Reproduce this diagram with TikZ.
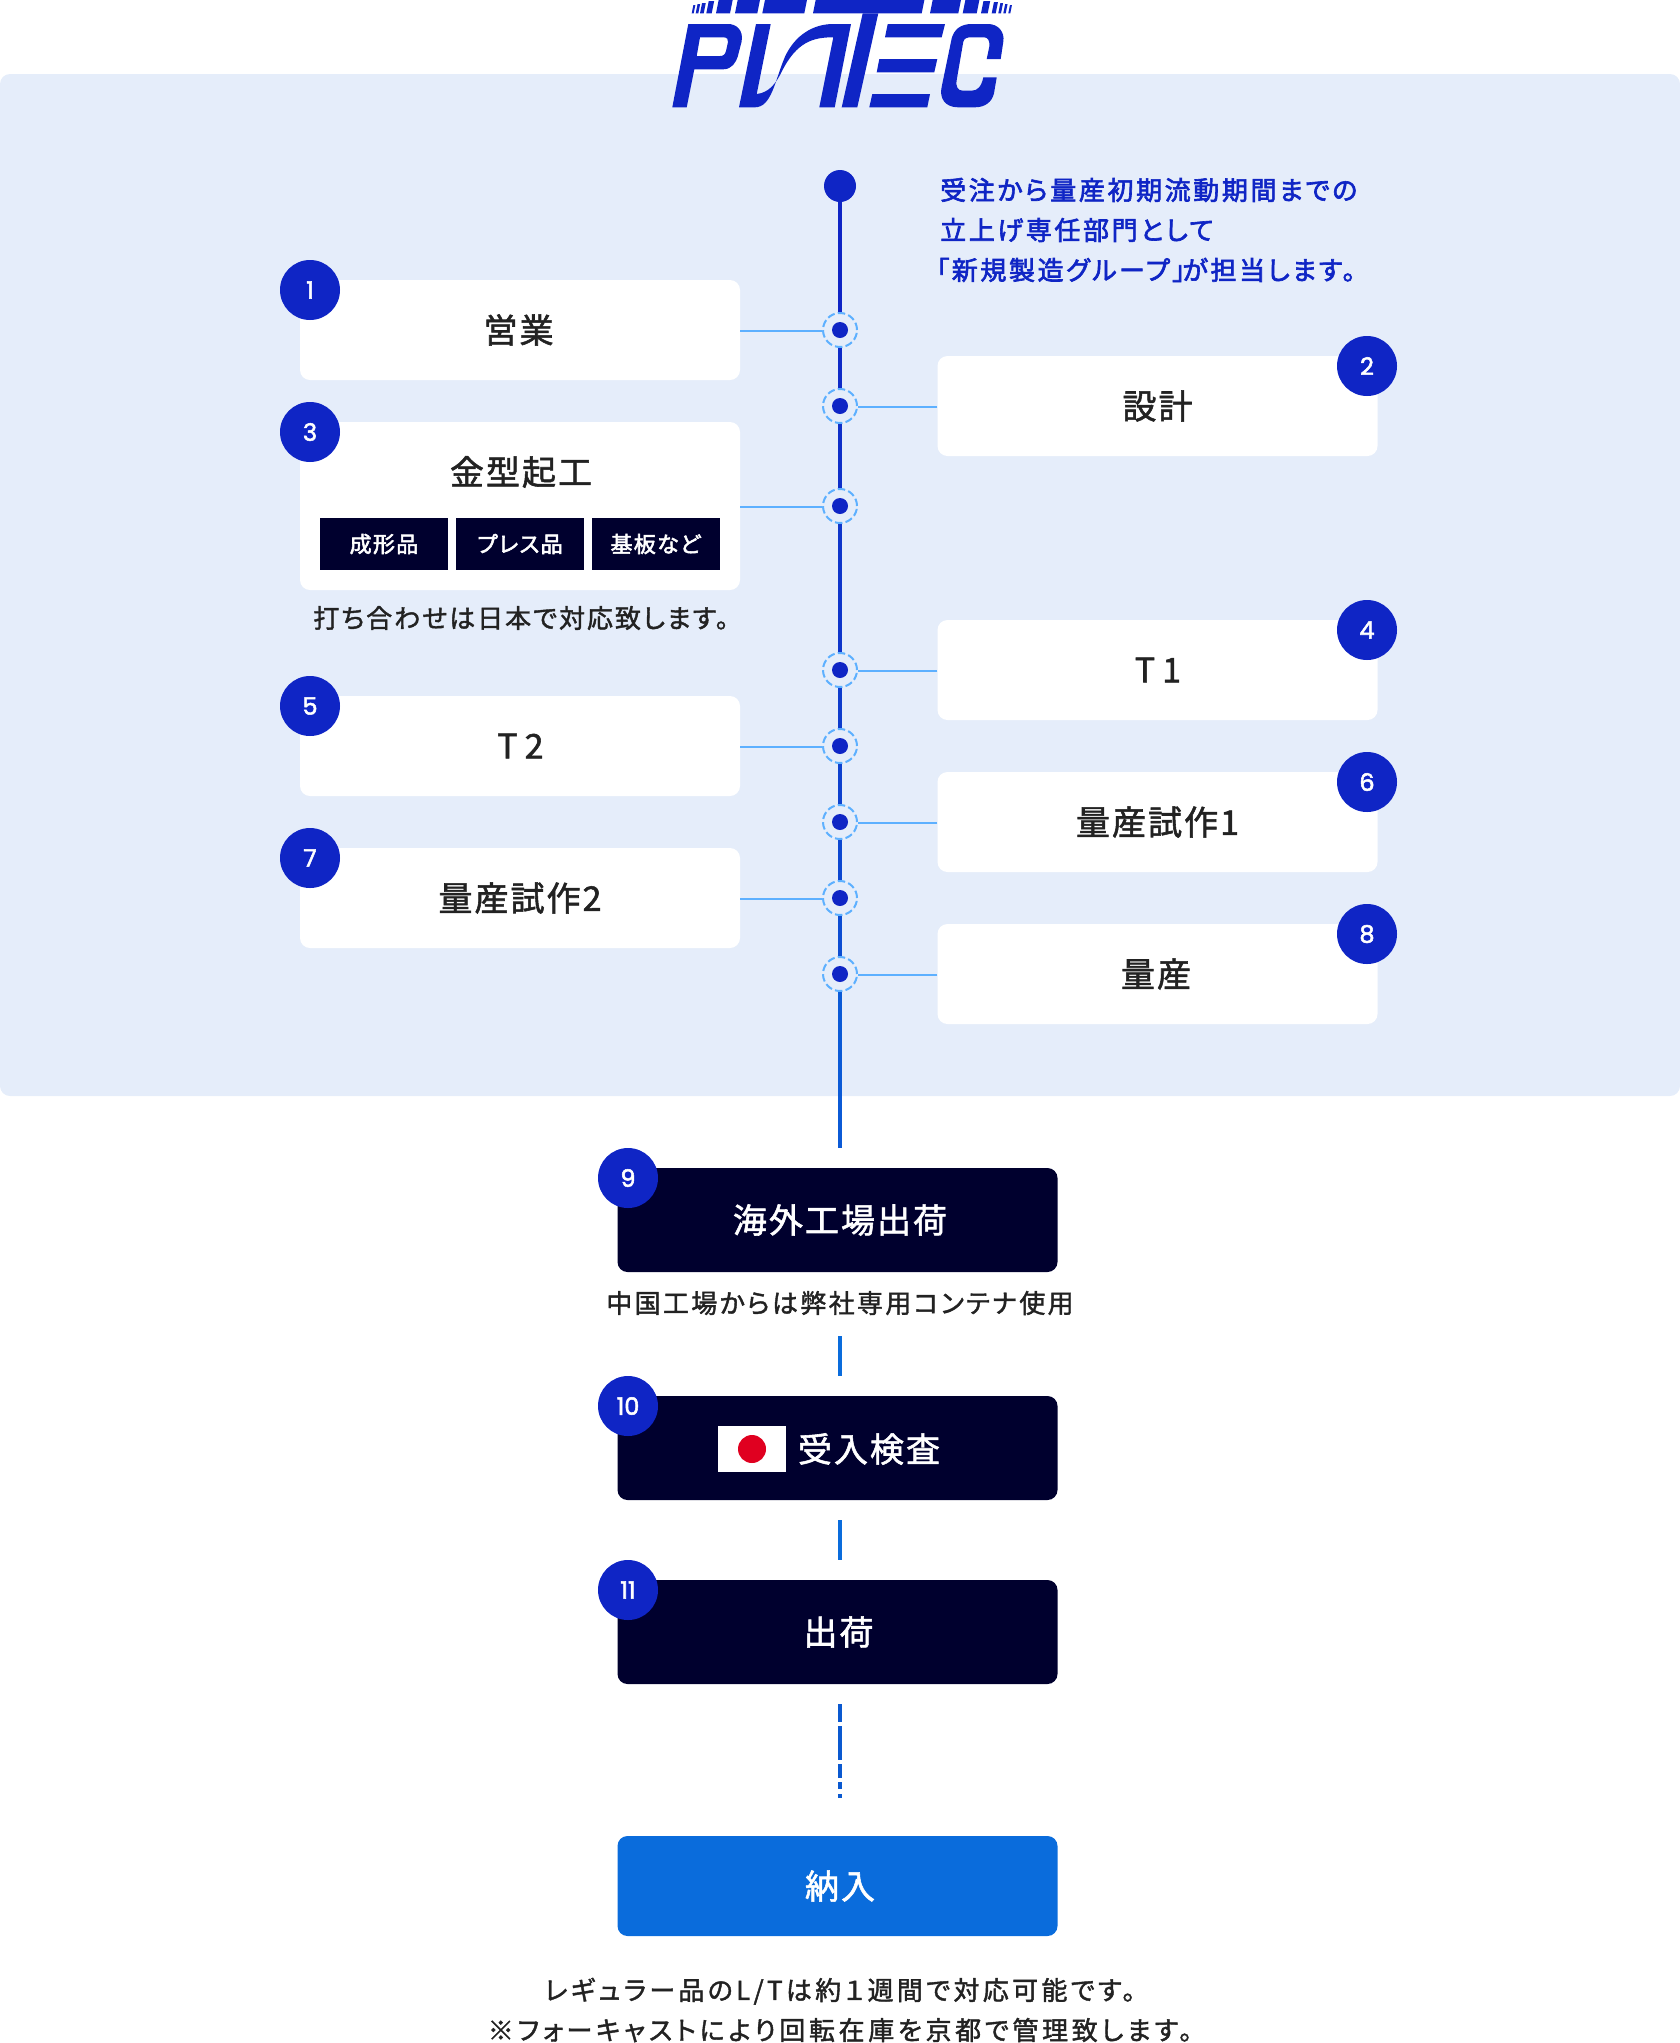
\documentclass[tikz,border=0pt]{standalone}
\usepackage{fontspec}
\setmainfont{Noto Sans CJK JP}[LetterSpace=6,FakeBold=1.6,RawFeature=+palt]
\newfontfamily\numfont{Poppins}[FakeBold=2.2]
\usetikzlibrary{positioning}
\definecolor{inkblue}{HTML}{0F25C5}
\definecolor{lowblue}{HTML}{0A6CDC}
\definecolor{deepblue}{HTML}{0A59D0}
\definecolor{bandblue}{HTML}{E5EDFA}
\definecolor{skyblue}{HTML}{5DB0FF}
\definecolor{navybox}{HTML}{00002E}
\definecolor{flagred}{HTML}{E00020}
\definecolor{darktext}{HTML}{222222}
\tikzset{
    mybox/.style = {rectangle, rounded corners=10pt, minimum width=440pt, minimum height=100pt, inner sep=0pt, fill=white, text=darktext, font=\fontsize{34}{34}\selectfont},
    myboxd/.style = {mybox, minimum height=104pt, fill=navybox, text=white, execute at begin node={\hskip5pt}},
    myboxb/.style = {mybox, fill=lowblue, text=white, execute at begin node={\hskip5pt}},
    mytag/.style = {rectangle, minimum width=128pt, minimum height=52pt, inner sep=0pt, fill=navybox, text=white, font=\fontsize{22}{22}\selectfont\addfontfeature{FakeBold=2.4}},
    mybadge/.style = {circle, minimum size=60pt, inner sep=0pt, fill=inkblue, text=white, font=\numfont\fontsize{24}{24}\selectfont},
    myring/.style = {circle, minimum size=34pt, inner sep=0pt, draw=skyblue, line width=2pt, dash pattern=on 7.5pt off 3.2pt, fill=bandblue},
    mydot/.style = {circle, minimum size=16pt, inner sep=0pt, fill=inkblue},
    mynote/.style = {text=darktext, inner sep=0pt, font=\fontsize{26}{26}\selectfont\addfontfeature{LetterSpace=7.5}},
    edgel/.style = {line width=2pt, skyblue, transform canvas={yshift=-1pt}},
    edges/.style = {line width=4pt},
    logoink/.style = {fill=inkblue, draw=none},
}

\begin{document}
\begin{tikzpicture}[x=1pt,y=-1pt]
\useasboundingbox (0,0) rectangle (1680,2043);
%
\path[fill=bandblue,rounded corners=10pt] (0,74) rectangle (1680,1096);
%
% logo
\foreach \a/\b/\t in {691.7/693.7/5,695.7/698.3/4,700/703.7/3,706.3/711.7/1,716/730/0,735/757.3/0,762.3/804.3/0,813/921.7/0,930/958.3/0,962.7/976.7/0,981/987.7/1,991.7/995.7/2,998.3/1001/3,1003.3/1005.7/4,1008.3/1010.3/5}
    \path[logoink] (\a,13.3) -- (\b,13.3) -- ({\b+0.2*(13.3-\t)},\t) -- ({\a+0.2*(13.3-\t)},\t) -- cycle;
\path[logoink,even odd rule] (672.3,107.3) -- (686.7,107.3) -- (694.3,69.3) -- (723.3,69.3) .. controls (732,69.3) and (736,62) .. (737.7,56.7) -- (741.5,42) .. controls (744,30) and (736,24) .. (728.3,24) -- (688.3,24) -- cycle
    (700,37.3) -- (723.3,37.3) .. controls (727,37.3) and (728.6,39.5) .. (728,42) -- (726,51) .. controls (725,54.5) and (723.5,56) .. (720,56) -- (696.7,56) -- cycle;
\path[logoink] (739,107.3) -- (756,24) -- (770.7,24) -- (756.7,94) .. controls (770,92.7) and (776.7,81.7) .. (781.7,71.7) .. controls (796.7,41.7) and (813.3,37.3) .. (833.3,37.3) -- (819.3,107.3) -- (834.7,107.3) -- (851,24) -- (833.3,24) .. controls (813.3,24) and (795,35) .. (785,56.7) .. controls (775,80) and (771.7,107.3) .. (755,107.3) -- cycle;
\path[logoink] (841.7,107.3) -- (857.3,107.3) -- (878.3,13.3) -- (862.7,13.3) -- cycle;
\path[logoink] (885,37.3) -- (941.7,37.3) -- (945,24) -- (887.7,24) -- cycle;
\path[logoink] (876.7,72.3) -- (934.3,72.3) -- (937.3,59) -- (879.3,59) -- cycle;
\path[logoink] (869.3,107.3) -- (927.3,107.3) -- (930,94) -- (872.3,94) -- cycle;
\path[logoink] (971.7,24) -- (988.3,24) .. controls (998,24) and (1005,32) .. (1003.3,41.7) -- (1000.7,59) -- (986.7,59) -- (989.3,46.7) .. controls (990,41) and (988,37.3) .. (984,37.3) -- (971.7,37.3) .. controls (967,37.3) and (964.5,38) .. (963.3,41.7) -- (956.7,80) .. controls (955.5,87) and (958,90.7) .. (963,90.7) -- (971.7,90.7) .. controls (978,90.7) and (981.5,86) .. (983.3,77.3) -- (996.7,77.3) -- (994,93.3) .. controls (992,102) and (985,107.3) .. (975,107.3) -- (958,107.3) .. controls (945,107.3) and (939,98) .. (941.7,86.7) -- (951.7,38.3) .. controls (954,30) and (960,24) .. (971.7,24) -- cycle;
%
\node[circle, minimum size=32pt, inner sep=0pt, fill=inkblue] at (840,186) (top) {};
\coordinate (bandend) at (840,1148);
%
\node[myring] at (840,330) (r1) {};
\node[myring] at (840,406) (r2) {};
\node[myring] at (840,506) (r3) {};
\node[myring] at (840,670) (r4) {};
\node[myring] at (840,746) (r5) {};
\node[myring] at (840,822) (r6) {};
\node[myring] at (840,898) (r7) {};
\node[myring] at (840,974) (r8) {};
%
\draw[edges,lowblue!0!inkblue] (top) -- (r1);
\draw[edges,lowblue!8!inkblue] (r1) -- (r2);
\draw[edges,lowblue!14!inkblue] (r2) -- (r3);
\draw[edges,lowblue!24!inkblue] (r3) -- (r4);
\draw[edges,lowblue!32!inkblue] (r4) -- (r5);
\draw[edges,lowblue!40!inkblue] (r5) -- (r6);
\draw[edges,lowblue!48!inkblue] (r6) -- (r7);
\draw[edges,lowblue!56!inkblue] (r7) -- (r8);
\draw[edges,lowblue!75!inkblue] (r8) -- (bandend);
%
\foreach \i in {1,...,8} \node[mydot] at (r\i.center) (d\i) {};
%
\node[mybox] at (520,330) (sales) {\kern-3pt 営業};
\node[mybox] at (1157.5,406) (design) {設計};
\node[mybox, minimum height=168pt] at (520,506) (mold) {};
\node[mybox, fill=none] at (521,472) (moldt) {金型起工};
\node[mytag] at (384,544) (taga) {成形品};
\node[mytag] at (520,544) (tagb) {プレス品};
\node[mytag] at (655.5,544) (tagc) {基板など};
\node[mynote] at (521,618) (moldn) {打ち合わせは日本で対応致します。};
\node[mybox] at (1157.5,670) (tone) {\kern1pt T\kern7pt 1};
\node[mybox] at (520,746) (ttwo) {\kern1pt T\kern7pt 2};
\node[mybox] at (1157.5,822) (trial) {量産試作1};
\node[mybox] at (520,898) (trialb) {量産試作2};
\node[mybox] at (1157.5,974) (mass) {\kern-3pt 量産};
%
\draw[edgel] (sales) -- (r1);
\draw[edgel] (design) -- (r2);
\draw[edgel] (mold) -- (r3);
\draw[edgel] (tone) -- (r4);
\draw[edgel] (ttwo) -- (r5);
\draw[edgel] (trial) -- (r6);
\draw[edgel] (trialb) -- (r7);
\draw[edgel] (mass) -- (r8);
%
\node[anchor=west, align=left, inner sep=0pt, text=inkblue, font=\fontsize{26}{40}\selectfont\addfontfeature{FakeBold=2.4,LetterSpace=10}] at (940,230) (lead) {受注から量産初期流動期間までの\\立上げ専任部門として\\\hspace*{-4pt}「新規製造グループ」\kern-3pt が担当します。};
%
\node[myboxd] at (837.5,1220) (ship) {海外工場出荷};
\node[mynote, font=\fontsize{26}{26}\selectfont\addfontfeature{LetterSpace=9}] at (840,1303) (shipn) {中国工場からは弊社専用コンテナ使用};
\node[myboxd] at (837.5,1448) (check) {};
\node[rectangle, minimum width=68pt, minimum height=46pt, inner sep=0pt, fill=white] at (752,1449) (flag) {};
\node[circle, minimum size=28pt, inner sep=0pt, fill=flagred] at (flag.center) (sun) {};
\node[text=white, inner sep=0pt, font=\fontsize{34}{34}\selectfont] at (869,1449) (checkt) {受入検査};
\node[myboxd] at (837.5,1632) (out) {\kern-3pt 出荷};
\node[myboxb] at (837.5,1886) (deliver) {納入};
\node[mynote, align=center, font=\fontsize{26}{40}\selectfont\addfontfeature{LetterSpace=14}] at (840,2010) (leadn) {{\addfontfeature{LetterSpace=12.7}レギュラー品のL/Tは約１週間で対応可能です。}\\※フォーキャストにより回転在庫を京都で管理致します。};
%
\coordinate (gapa) at (840,1336);
\coordinate (gapb) at (840,1376);
\coordinate (gapc) at (840,1520);
\coordinate (gapd) at (840,1560);
\coordinate (gape) at (840,1704);
\coordinate (gapf) at (840,1798);
\draw[edges,lowblue] (gapa) -- (gapb);
\draw[edges,lowblue] (gapc) -- (gapd);
\draw[edges,deepblue,dash pattern=on 18pt off 4pt on 34pt off 4pt on 14pt off 4pt on 7pt off 5pt on 4pt off 100pt] (gape) -- (gapf);
%
\node[mybadge] at (310,290) (b1) {1};
\node[mybadge] at (1367,366) (b2) {2};
\node[mybadge] at (310,432) (b3) {3};
\node[mybadge] at (1367,630) (b4) {4};
\node[mybadge] at (310,706) (b5) {5};
\node[mybadge] at (1367,782) (b6) {6};
\node[mybadge] at (310,858) (b7) {7};
\node[mybadge] at (1367,934) (b8) {8};
\node[mybadge] at (628,1178) (b9) {9};
\node[mybadge] at (628,1406) (b10) {10};
\node[mybadge] at (628,1590) (b11) {11};

\end{tikzpicture}
\end{document}
